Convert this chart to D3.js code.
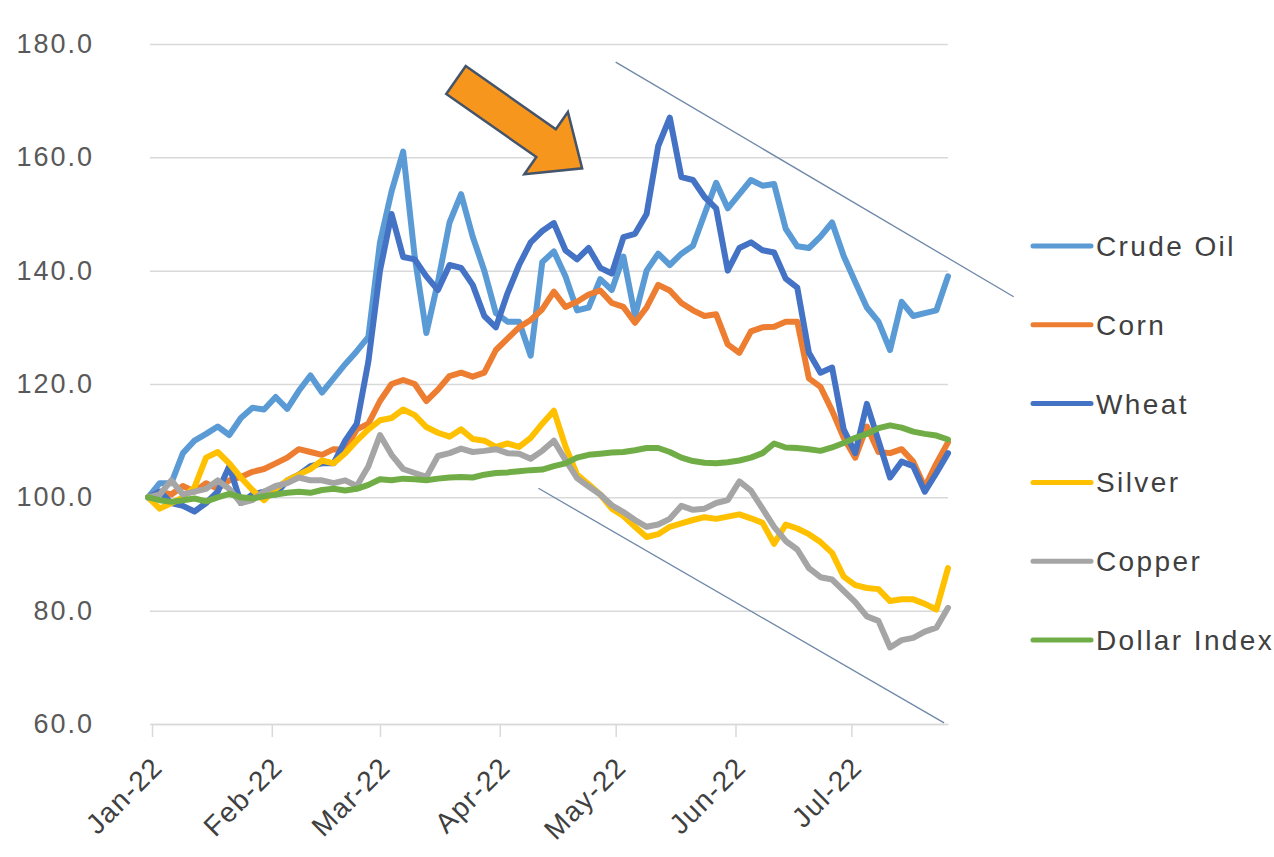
<!DOCTYPE html>
<html>
<head>
<meta charset="utf-8">
<script src="https://cdn.jsdelivr.net/npm/d3@7"></script>
<style>
  html, body { margin: 0; padding: 0; background: #ffffff; }
  svg { display: block; }
  text { font-family: "Liberation Sans", Arial, sans-serif; }
</style>
</head>
<body>
<svg id="chart" width="1274" height="857"></svg>
<script>
// ---------- DATA ----------
const dates = [
  "2021-12-31","2022-01-03","2022-01-06","2022-01-09","2022-01-12","2022-01-15","2022-01-18","2022-01-21","2022-01-24","2022-01-27",
  "2022-01-30","2022-02-02","2022-02-05","2022-02-08","2022-02-11","2022-02-14","2022-02-17","2022-02-20","2022-02-23","2022-02-26",
  "2022-03-01","2022-03-04","2022-03-07","2022-03-10","2022-03-13","2022-03-16","2022-03-19","2022-03-22","2022-03-25","2022-03-28",
  "2022-03-31","2022-04-03","2022-04-06","2022-04-09","2022-04-12","2022-04-15","2022-04-18","2022-04-21","2022-04-24","2022-04-27",
  "2022-04-30","2022-05-03","2022-05-06","2022-05-09","2022-05-12","2022-05-15","2022-05-18","2022-05-21","2022-05-24","2022-05-27",
  "2022-05-30","2022-06-02","2022-06-05","2022-06-08","2022-06-11","2022-06-14","2022-06-17","2022-06-20","2022-06-23","2022-06-26",
  "2022-06-29","2022-07-02","2022-07-05","2022-07-08","2022-07-11","2022-07-14","2022-07-17","2022-07-20","2022-07-23","2022-07-26"
];

const crudeOil = [
  100, 102.5, 102.5, 107.8, 110, 111.2, 112.5, 111, 114, 115.8,
  115.5, 117.7, 115.6, 118.8, 121.5, 118.5, 121, 123.5, 125.8, 128.3,
  145, 154, 161, 142.4, 129, 138, 148.5, 153.5, 146, 140,
  132.5, 131, 131, 125, 141.5, 143.4, 139, 133, 133.5, 138.5,
  136.6, 142.5, 132, 140, 143, 141, 143, 144.4, 150, 155.5,
  151, 153.5, 156, 155, 155.3, 147.4, 144.3, 144, 146, 148.5,
  142.6, 138, 133.5, 131, 126, 134.5, 132, 132.5, 133, 139
];
const corn = [
  100, 101, 100.5, 102, 101, 102.5, 101.5, 103, 103.6, 104.5,
  105, 106, 107, 108.5, 108, 107.5, 108.5, 108.4, 112, 113,
  117, 120, 120.7, 120, 117, 119, 121.4, 122, 121.3, 122,
  126, 128, 130, 131.3, 133.2, 136.3, 133.6, 134.5, 135.8, 136.5,
  134.3, 133.6, 130.8, 133.5, 137.5, 136.5, 134.3, 133, 132, 132.3,
  127, 125.5, 129.3, 130, 130.1, 131, 131, 121, 119.5, 115.3,
  110.5, 107, 112.5, 108, 107.8, 108.5, 106.3, 101.8, 106, 109.7
];
const wheat = [
  100, 101, 99, 98.5, 97.5, 99, 101, 105.5, 99, 100.5,
  101, 100.5, 103, 104, 105.5, 106, 106, 110, 113, 124,
  140, 150, 142.4, 142, 139, 136.6, 141, 140.5, 137.5, 132,
  130, 136, 141, 145, 147, 148.4, 143.6, 142, 144, 140.5,
  139.5, 145.9, 146.5, 150, 162, 167, 156.5, 156, 153, 151,
  140, 144, 145, 143.6, 143.2, 138.6, 137, 125.5, 122, 122.9,
  112, 107.8, 116.5, 110, 103.5, 106.3, 105.5, 101, 104.3, 107.8
];
const silver = [
  100, 98, 99, 100, 101.8, 107, 108, 106, 103.5, 101.3,
  99.5, 101.5, 103, 104, 105, 106.5, 106, 107.8, 110, 112,
  113.6, 114, 115.5, 114.5, 112.4, 111.4, 110.7, 112, 110.3, 110,
  108.9, 109.5, 108.9, 110.5, 113, 115.3, 109, 104, 102.3, 100.5,
  98, 96.7, 94.8, 93, 93.5, 94.8, 95.4, 96, 96.5, 96.2,
  96.6, 97, 96.3, 95.5, 91.8, 95.2, 94.5, 93.5, 92.1, 90.2,
  86, 84.5, 84, 83.8, 81.7, 82, 82, 81.2, 80.2, 87.5
];
const copper = [
  100, 100.5, 103, 100.5, 101, 101.5, 103, 101.5, 99, 99.5,
  101, 102, 102.5, 103.5, 103, 103, 102.5, 103, 102, 105.5,
  111, 107.5, 105, 104.3, 103.6, 107.3, 107.8, 108.6, 108, 108.2,
  108.5, 107.8, 107.7, 106.8, 108.2, 110, 106.6, 103.4, 101.9, 100.5,
  98.6, 97.4, 96, 94.8, 95.2, 96.2, 98.5, 97.8, 98, 99,
  99.5, 102.8, 101.2, 98, 94.8, 92.3, 90.8, 87.5, 85.9, 85.5,
  83.5, 81.5, 79, 78.2, 73.5, 74.8, 75.2, 76.3, 77, 80.5
];
const dollarIndex = [
  100, 99.5, 99.2, 99.5, 99.8, 99.3, 100, 100.6, 100, 99.8,
  100.2, 100.5, 100.8, 101, 100.8, 101.3, 101.5, 101.2, 101.5, 102.2,
  103.2, 103, 103.3, 103.2, 103, 103.3, 103.5, 103.6, 103.5, 104,
  104.3, 104.4, 104.6, 104.8, 104.9, 105.5, 106, 107, 107.5, 107.7,
  107.9, 108, 108.3, 108.7, 108.7, 108, 107, 106.4, 106.1, 106,
  106.2, 106.5, 107, 107.8, 109.5, 108.8, 108.7, 108.5, 108.2, 108.8,
  109.6, 110.5, 111.2, 112.2, 112.7, 112.3, 111.6, 111.2, 110.9, 110.2
];

const seriesNames = ["Crude Oil", "Corn", "Wheat", "Silver", "Copper", "Dollar Index"];
const yTickValues = [60, 80, 100, 120, 140, 160, 180];
const monthTicks = ["2022-01-01","2022-02-01","2022-03-01","2022-04-01","2022-05-01","2022-06-01","2022-07-01"];

// trend-channel annotation lines (date, value)
const upperTrend = [["2022-05-01", 176.8], ["2022-08-12", 135.4]];
const lowerTrend = [["2022-04-11", 101.6], ["2022-07-25", 60.2]];

// ---------- STYLE ----------
const colors = ["#5B9BD5", "#ED7D31", "#4472C4", "#FFC000", "#A5A5A5", "#70AD47"];
const seriesValues = [crudeOil, corn, wheat, silver, copper, dollarIndex];

const parse = d3.timeParse("%Y-%m-%d");
const svg = d3.select("#chart");

const x = d3.scaleTime()
  .domain([parse("2022-01-01"), parse("2022-07-26")])
  .range([152, 948]);
const y = d3.scaleLinear().domain([60, 180]).range([724, 44]);

// gridlines + y labels
const yAxis = d3.axisLeft(y)
  .tickValues(yTickValues)
  .tickFormat(d3.format(".1f"))
  .tickSize(-798)
  .tickPadding(56);
const gy = svg.append("g").attr("transform", "translate(150,0)").call(yAxis);
gy.select(".domain").remove();
gy.selectAll(".tick line").attr("stroke", "#D9D9D9").attr("stroke-width", 1.5);
gy.selectAll(".tick text")
  .attr("fill", "#595959")
  .style("font-size", "27px")
  .style("letter-spacing", "2px");

// x axis
const xAxis = d3.axisBottom(x)
  .tickValues(monthTicks.map(parse))
  .tickFormat(d3.timeFormat("%b-%y"))
  .tickSize(13)
  .tickSizeOuter(0);
const gx = svg.append("g").attr("transform", "translate(0,724)").call(xAxis);
gx.select(".domain").attr("stroke", "#D9D9D9").attr("stroke-width", 1.5);
gx.selectAll(".tick line").attr("stroke", "#D9D9D9").attr("stroke-width", 1.5);
gx.selectAll(".tick text")
  .attr("fill", "#404040")
  .style("font-size", "28px")
  .style("letter-spacing", "1.5px")
  .attr("text-anchor", "end")
  .attr("y", 0)
  .attr("dy", "0.35em")
  .attr("transform", "translate(5,38) rotate(-45)");

// series lines
const line = d3.line()
  .x((d, i) => x(parse(dates[i])))
  .y(d => y(d));

seriesValues.forEach((vals, si) => {
  svg.append("path")
    .datum(vals)
    .attr("fill", "none")
    .attr("stroke", colors[si])
    .attr("stroke-width", 6)
    .attr("stroke-linejoin", "round")
    .attr("stroke-linecap", "round")
    .attr("d", line);
});

// trend channel lines
[upperTrend, lowerTrend].forEach(t => {
  svg.append("line")
    .attr("x1", x(parse(t[0][0]))).attr("y1", y(t[0][1]))
    .attr("x2", x(parse(t[1][0]))).attr("y2", y(t[1][1]))
    .attr("stroke", "#6F88A8")
    .attr("stroke-width", 1.3);
});

// orange block arrow annotation
const L = 154, hl = 44, sw = 17, hw = 38;
svg.append("polygon")
  .attr("points", [[0,-sw],[L-hl,-sw],[L-hl,-hw],[L,0],[L-hl,hw],[L-hl,sw],[0,sw]].map(p => p.join(",")).join(" "))
  .attr("transform", "translate(456,80) rotate(35)")
  .attr("fill", "#F7961C")
  .attr("stroke", "#44546A")
  .attr("stroke-width", 2.5)
  .attr("stroke-linejoin", "miter");

// legend
const legend = svg.append("g");
seriesNames.forEach((name, i) => {
  const ly = 246 + i * 78.8;
  legend.append("line")
    .attr("x1", 1033).attr("x2", 1091)
    .attr("y1", ly).attr("y2", ly)
    .attr("stroke", colors[i])
    .attr("stroke-width", 5)
    .attr("stroke-linecap", "round");
  legend.append("text")
    .attr("x", 1096).attr("y", ly)
    .attr("dy", "0.36em")
    .attr("fill", "#404040")
    .style("font-size", "28px")
    .style("letter-spacing", "2.4px")
    .text(name);
});
</script>
</body>
</html>
